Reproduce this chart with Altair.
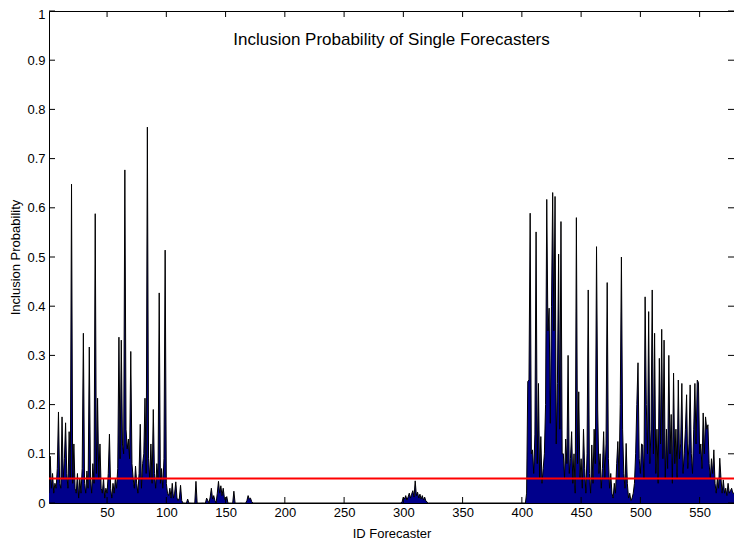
import altair as alt
import pandas as pd

# ---- data ----
seg1_vals = [
    0.02, 0.095, 0.03, 0.06, 0.02, 0.04, 0.03, 0.07, 0.185, 0.04,
    0.03, 0.175, 0.05, 0.09, 0.163, 0.06, 0.03, 0.145, 0.05, 0.648,
    0.04, 0.12, 0.03, 0.02, 0.06, 0.01, 0.05, 0.02, 0.07, 0.345,
    0.04, 0.02, 0.065, 0.03, 0.317, 0.05, 0.02, 0.08, 0.04, 0.588,
    0.06, 0.213, 0.05, 0.12, 0.03, 0.02, 0.05, 0.01, 0.03, 0.02,
    0.06, 0.14, 0.03, 0.01, 0.04, 0.02, 0.05, 0.03, 0.07, 0.337,
    0.09, 0.331, 0.12, 0.1, 0.677, 0.15, 0.11, 0.13, 0.09, 0.308,
    0.08, 0.05, 0.03, 0.075, 0.04, 0.02, 0.06, 0.16, 0.03, 0.08,
    0.1, 0.213, 0.06, 0.764, 0.09, 0.05, 0.12, 0.04, 0.19, 0.06,
    0.03, 0.08, 0.05, 0.427, 0.04, 0.07, 0.03, 0.09, 0.514, 0.04,
    0.02, 0.015, 0.03, 0.01, 0.04, 0.01, 0.02, 0.043, 0.01, 0.005,
    0.01, 0.036, 0.005, 0, 0, 0, 0, 0.008, 0, 0,
    0, 0, 0, 0, 0.044, 0, 0, 0, 0, 0,
    0, 0, 0, 0.01, 0.005, 0, 0.012, 0.03, 0.008, 0.015,
    0.005, 0, 0.02, 0.044, 0.02, 0.035, 0.015, 0.03, 0.01, 0.005,
    0.013, 0, 0, 0, 0, 0, 0.024, 0, 0, 0,
    0, 0, 0, 0, 0, 0, 0, 0.005, 0.015, 0.008,
    0.01, 0.003,
]
gap1_ids = [173, 298]
gap1_vals = [0, 0]
seg2_vals = [
    0.003, 0.012, 0.008, 0.015, 0.006, 0.012, 0.02, 0.01, 0.018, 0.025,
    0.012, 0.045, 0.015, 0.022, 0.01, 0.018, 0.008, 0.015, 0.006, 0.012,
    0.004, 0.002,
]
gap2_ids = [321, 403]
gap2_vals = [0, 0]
seg3_vals = [
    0.02, 0.247, 0.25, 0.589, 0.1, 0.108, 0.06,
    0.14, 0.551, 0.08, 0.243, 0.05, 0.135, 0.04, 0.07, 0.1, 0.2,
    0.617, 0.35, 0.396, 0.162, 0.4, 0.631, 0.35, 0.623, 0.12, 0.243,
    0.506, 0.15, 0.572, 0.1, 0.1, 0.05, 0.13, 0.08, 0.3, 0.06,
    0.09, 0.145, 0.04, 0.1, 0.02, 0.58, 0.08, 0.226, 0.05, 0.09,
    0.03, 0.15, 0.07, 0.02, 0.1, 0.433, 0.06, 0.02, 0.118, 0.04,
    0.15, 0.08, 0.521, 0.189, 0.06, 0.1, 0.03, 0.07, 0.145, 0.05,
    0.12, 0.448, 0.09, 0.03, 0.06, 0.02, 0.01, 0.04, 0.02, 0.08,
    0.125, 0.05, 0.2, 0.5, 0.15, 0.06, 0.03, 0.121, 0.04, 0.01,
    0.02, 0.005, 0.01, 0.02, 0.04, 0.1, 0.2, 0.285, 0.09, 0.06,
    0.12, 0.118, 0.05, 0.419, 0.2, 0.1, 0.389, 0.08, 0.15, 0.433,
    0.1, 0.345, 0.06, 0.15, 0.04, 0.294, 0.12, 0.353, 0.09, 0.331,
    0.05, 0.15, 0.07, 0.3, 0.1, 0.18, 0.04, 0.264, 0.08, 0.15,
    0.05, 0.25, 0.09, 0.12, 0.243, 0.06, 0.1, 0.15, 0.22, 0.07,
    0.12, 0.24, 0.1, 0.06, 0.15, 0.243, 0.12, 0.25, 0.245, 0.1,
    0.12, 0.07, 0.183, 0.1, 0.175, 0.15, 0.159, 0.08, 0.05, 0.09,
    0.06, 0.108, 0.04, 0.02, 0.05, 0.03, 0.091, 0.05, 0.02, 0.047,
    0.02, 0.03, 0.015, 0.04, 0.02, 0.025, 0.03, 0.02, 0.02,
]
threshold = [0.05]
x_ticks = [50, 100, 150, 200, 250, 300, 350, 400, 450, 500, 550]
y_ticks = [0, 0.1, 0.2, 0.3, 0.4, 0.5, 0.6, 0.7, 0.8, 0.9, 1]
x_domain = [1, 579]
title_text = "Inclusion Probability of Single Forecasters"
x_title = "ID Forecaster"
y_title = "Inclusion Probability"

ids = (list(range(1, 173)) + gap1_ids + list(range(299, 321)) + gap2_ids
       + list(range(404, 580)))
vals = seg1_vals + gap1_vals + seg2_vals + gap2_vals + seg3_vals
assert len(ids) == len(vals), (len(ids), len(vals))

df = pd.DataFrame({"id": ids, "p": vals})
xt = pd.DataFrame({"id": x_ticks})
yt = pd.DataFrame({"p": y_ticks})

W, H = 685, 492
FONT = "Liberation Sans"

xs = alt.Scale(domain=x_domain, nice=False, zero=False)
ys = alt.Scale(domain=[0, 1], nice=False)
x_axis = alt.Axis(values=x_ticks, ticks=False, tickSize=0, domain=False, grid=False,
                  labelPadding=3, title=x_title, titlePadding=8)
y_axis = alt.Axis(values=y_ticks, ticks=False, tickSize=0, domain=False, grid=False,
                  labelPadding=4, title=y_title, titlePadding=4, format="~g",
                  labelOffset={"condition": {"test": "datum.value === 1", "value": 3},
                               "value": 0})

X = alt.X("id:Q", scale=xs, axis=x_axis)
Y = alt.Y("p:Q", scale=ys, axis=y_axis)

area = alt.Chart(df).mark_area(
    color="#00008B", fillOpacity=1, opacity=1, interpolate="linear", clip=True,
    line={"color": "black", "strokeWidth": 1},
).encode(x=X, y=Y)

red = alt.Chart(pd.DataFrame({"p": threshold})).mark_rule(
    color="#FF0000", strokeWidth=2
).encode(y=Y)

tick_b = alt.Chart(xt).mark_rule(color="black", strokeWidth=1).encode(
    x=X, y=alt.value(H), y2=alt.value(H - 6))
tick_t = alt.Chart(xt).mark_rule(color="black", strokeWidth=1).encode(
    x=X, y=alt.value(0), y2=alt.value(6))
tick_l = alt.Chart(yt).mark_rule(color="black", strokeWidth=1).encode(
    y=Y, x=alt.value(0), x2=alt.value(6))
tick_r = alt.Chart(yt).mark_rule(color="black", strokeWidth=1).encode(
    y=Y, x=alt.value(W), x2=alt.value(W - 6))

title = alt.Chart(pd.DataFrame({"t": [title_text]})).mark_text(
    font=FONT, fontSize=17, color="black", align="center", baseline="middle"
).encode(x=alt.value(W / 2), y=alt.value(29), text="t:N")

chart = alt.layer(area, red, tick_b, tick_t, tick_l, tick_r, title).properties(
    width=W, height=H,
    background="white",
    autosize=alt.AutoSizeParams(type="none"),
    padding={"left": 41, "top": 3, "right": 0, "bottom": 37},
).configure_view(
    stroke="black", strokeWidth=1
).configure_axis(
    labelFont=FONT, titleFont=FONT, labelFontSize=13, titleFontSize=13,
    labelColor="black", titleColor="black", titleFontWeight="normal",
)

chart.save("out.html", embed_options={"renderer": "svg", "actions": False})
